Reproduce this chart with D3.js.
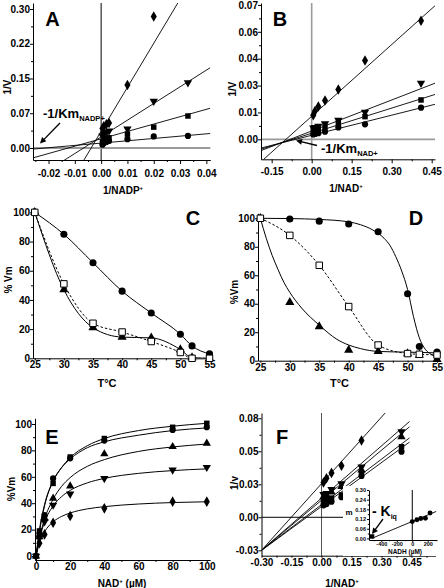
<!DOCTYPE html>
<html><head><meta charset="utf-8">
<script src="https://cdn.jsdelivr.net/npm/d3@7"></script>
<style>
body{margin:0;background:#fff;}
svg text{font-family:"Liberation Sans",Arial,sans-serif;font-weight:bold;fill:#000;}
</style></head><body>
<script>
// ---------------- DATA ----------------
// Panel A (1/V vs 1/NADP+)
const aX        = [0.0005, 0.001, 0.002, 0.003, 0.01, 0.02, 0.033];
const aDiamond  = [0.042, 0.047, 0.051, 0.054, 0.136, 0.284, null];
const aTriDown  = [0.026, 0.030, 0.034, 0.037, 0.041, 0.101, 0.141];
const aSquare   = [0.013, 0.016, 0.020, 0.022, 0.030, 0.045, 0.069];
const aCircle   = [0.007, 0.010, 0.013, 0.015, 0.019, 0.025, 0.026];
const aFitIntercept = [0.036, 0.024, 0.0198, 0.0105];
const aFitSlope     = [9.5, 3.6, 1.59, 0.5];
const aYTicks = [0, 0.075, 0.15, 0.225, 0.30];
const aYLabels = ["0.00","0.07","0.15","0.22","0.30"];
const aXTicks = [-0.02,-0.01,0,0.01,0.02,0.03,0.04];
const aXLabels = ["-0.02","-0.01","0.00","0.01","0.02","0.03","0.04"];

// Panel B (1/V vs 1/NAD+)
const bX        = [0.006, 0.0125, 0.025, 0.05, 0.1, 0.2, 0.41];
const bDiamond  = [0.0126, 0.0148, 0.0171, 0.0202, 0.0260, 0.0410, 0.0618];
const bTriDown  = [0.0060, 0.0062, 0.0068, 0.0082, 0.0100, 0.0142, 0.0292];
const bSquare   = [0.0045, 0.0048, 0.0052, 0.0064, 0.0085, 0.0118, 0.0205];
const bCircle   = [0.0025, 0.0028, 0.0032, 0.0040, 0.0062, 0.0078, 0.0165];
const bFitIntercept = [0.012, 0.00435, 0.00316, 0.0021];
const bFitSlope     = [0.1245, 0.0538, 0.0437, 0.0349];
const bYTicks = [0, 0.014, 0.028, 0.042, 0.056, 0.07];
const bYLabels = ["0.00","0.01","0.03","0.04","0.06","0.07"];
const bXTicks = [-0.15, 0, 0.15, 0.30, 0.45];
const bXLabels = ["-0.15","0.00","0.15","0.30","0.45"];

// Panel C (%Vm vs T)
const cX        = [25, 30, 35, 40, 45, 50, 52, 55];
const cCircle   = [100, 85, 65.5, 46, 31, 16.5, 8.5, 3];
const cTriangle = [100, 47, 21, 14.5, 14, 6, 0.5, 0];
const cSquare   = [100, 51, 24, 18, 11.5, 4, 0, 0];

// Panel D (%Vm vs T)
const dX        = [25, 30, 35, 40, 45, 50, 52, 55];
const dCircle   = [100, 99.5, 98, 96, 90.5, 47, 10, 6];
const dTriangle = [100, 41, 24, 7.5, 6.5, 5, 4, 1];
const dSquare   = [100, 88, 67, 38, 11, 5, 4.5, 4];
const dCircleFitX = [25, 30, 35, 40, 42, 44, 46, 47, 48, 49, 50, 51, 52, 53, 54, 55];
const dCircleFitY = [100, 99.8, 99.2, 97.5, 95.5, 92, 86, 81, 73, 63, 50, 31, 16, 8, 4.5, 2.5];
const dTriFitX = [25, 26, 27, 28, 29, 30, 32, 35, 38, 40, 42, 45, 50, 55];
const dTriFitY = [100, 86, 74, 64, 55, 48, 37, 25, 15, 11, 8.5, 6.5, 6, 5.5];

// Panel E (%Vm vs NAD+ µM)
const eX        = [0, 2, 5, 10, 20, 40, 80, 100];
const eSquare   = [0, 19, 30, 55, 75, 89, 97.5, 100.5];
const eCircle   = [0, 17, 31, 58.8, 74, 87.4, 95.5, 97.5];
const eTriUp    = [0, 14.6, 28.5, 43.7, 53, 77.3, 82.8, 85.4];
const eTriDown  = [0, 14, 26, 38.6, 47, 58.8, 65.2, 67.2];
const eDiamond  = [0, 9.6, 16.4, 25.2, 30.3, 36.1, 41.2, 41.2];
const eFitX        = [0, 2, 5, 10, 15, 20, 30, 40, 60, 80, 100];
const eFitSquare   = [0, 18, 38, 56.5, 67, 74.5, 83.5, 89, 95, 98.3, 100.5];
const eFitCircle   = [0, 20, 39, 57, 67, 73.5, 82, 86.5, 91.5, 95, 97];
const eFitTriUp    = [0, 13.6, 28, 43, 52.8, 59.4, 67.9, 73, 79.2, 82.6, 84.8];
const eFitTriDown  = [0, 13, 25.7, 37.9, 45, 49.7, 55.4, 58.8, 62.6, 64.7, 66];
const eFitDiamond  = [0, 9.8, 18.3, 25.9, 30, 32.6, 35.7, 37.4, 39.4, 40.5, 41.1];

// Panel F (1/v vs 1/NAD+)
const fX        = [0.01, 0.025, 0.05, 0.1, 0.2, 0.4];
const fDiamond  = [0.029, 0.0325, 0.037, 0.043, 0.064, null];
const fTriDown  = [0.019, 0.020, 0.0233, 0.028, 0.042, 0.0713];
const fTriUp    = [0.017, 0.018, 0.021, 0.0255, 0.0394, 0.067];
const fSquare   = [0.013, 0.014, 0.016, 0.0186, 0.0367, 0.0588];
const fCircle   = [0.010, 0.011, 0.013, 0.0167, 0.0344, 0.0547];
const fFitIntercept = [0.028, 0.016, 0.0142, 0.0105, 0.009];
const fFitSlope     = [0.185, 0.145, 0.139, 0.1265, 0.122];
const fYTicks = [-0.0275, 0, 0.0275, 0.055, 0.0825];
const fYLabels = ["-0.03","0.00","0.03","0.05","0.08"];
const fXTicks = [-0.30, -0.15, 0, 0.15, 0.30, 0.45];
const fXLabels = ["-0.30","-0.15","0.00","0.15","0.30","0.45"];

// Inset of F (m vs NADH µM)
const insSquareX = [-520];
const insSquareY = [0.012];
const insCircleX = [0, 60, 110, 170, 230];
const insCircleY = [0.104, 0.115, 0.123, 0.125, 0.157];
const insFitIntercept = 0.105, insFitSlope = 0.0002;
const insYTicks = [0, 0.06, 0.12, 0.18, 0.24, 0.30];
const insYLabels = ["0.00","0.06","0.12","0.18","0.24","0.30"];
const insXTicks = [-400, -200, 0, 200];
const insXLabels = ["-400","-200","0","200"];

// ---------------- DRAWING ----------------
const svg = d3.select("body").append("svg").attr("width",444).attr("height",588);
const defs = svg.append("defs");

function makePanel(o){
  const g = svg.append("g");
  const x = d3.scaleLinear().domain(o.xDomain).range(o.xRange);
  const y = d3.scaleLinear().domain(o.yDomain).range(o.yRange);
  const cid = "clip_"+o.id;
  defs.append("clipPath").attr("id",cid).append("rect")
    .attr("x",o.xRange[0]).attr("y",o.yRange[1])
    .attr("width",o.xRange[1]-o.xRange[0]).attr("height",o.yRange[0]-o.yRange[1]);
  const fs = o.fs || 10;
  if (o.xMinor) g.append("g").attr("transform",`translate(0,${o.yRange[0]})`)
      .call(d3.axisBottom(x).tickValues(o.xMinor).tickFormat("").tickSize(o.minorSize||2).tickSizeOuter(0))
      .call(s=>s.select(".domain").remove());
  if (o.yMinor) g.append("g").attr("transform",`translate(${o.xRange[0]},0)`)
      .call(d3.axisLeft(y).tickValues(o.yMinor).tickFormat("").tickSize(o.minorSize||2).tickSizeOuter(0))
      .call(s=>s.select(".domain").remove());
  const xa = g.append("g").attr("transform",`translate(0,${o.yRange[0]})`)
    .call(d3.axisBottom(x).tickValues(o.xTicks).tickFormat((d,i)=>o.xLabels[i])
      .tickSize(o.xTickSize).tickPadding(o.xPad).tickSizeOuter(0));
  const ya = g.append("g").attr("transform",`translate(${o.xRange[0]},0)`)
    .call(d3.axisLeft(y).tickValues(o.yTicks).tickFormat((d,i)=>o.yLabels[i])
      .tickSize(o.yTickSize).tickPadding(o.yPad).tickSizeOuter(0));
  [xa,ya].forEach(a=>{a.attr("font-family",null).attr("font-size",null);
    a.selectAll("text").style("font-size",fs+"px");});
  const plot = g.append("g").attr("clip-path",`url(#${cid})`);
  return {g, x, y, plot};
}

const SYM = {
  circle: d3.symbol().type(d3.symbolCircle).size(30)(),
  square: d3.symbol().type(d3.symbolSquare).size(30)(),
  triUp: d3.symbol().type(d3.symbolTriangle).size(30)(),
  triDown: d3.symbol().type(d3.symbolTriangle).size(30)(),
  diamond: d3.symbol().type(d3.symbolDiamond).size(32)(),
  open: d3.symbol().type(d3.symbolSquare).size(42)()
};
function points(P, xs, ys, type, sizeScale){
  const data = xs.map((v,i)=>[v, ys[i]]).filter(d=>d[1]!=null);
  P.g.append("g").selectAll("path").data(data).join("path")
    .attr("d", SYM[type])
    .attr("transform", d=>`translate(${P.x(d[0])},${P.y(d[1])})${type==="triDown"?" rotate(180)":""}${sizeScale?` scale(${sizeScale})`:""}`)
    .attr("fill", type==="open" ? "#fff" : "#000")
    .attr("stroke", type==="open" ? "#000" : "none")
    .attr("stroke-width", 1);
}
function fitLine(P, a, b, x0, x1){
  P.plot.append("path")
    .attr("d", d3.line().x(d=>P.x(d)).y(d=>P.y(a+b*d))([x0,x1]))
    .attr("fill","none").attr("stroke","#000").attr("stroke-width",0.9);
}
function curve(P, xs, ys, dashed){
  const data = xs.map((v,i)=>[v, ys[i]]).filter(d=>d[1]!=null);
  P.plot.append("path")
    .attr("d", d3.line().x(d=>P.x(d[0])).y(d=>P.y(d[1])).curve(d3.curveMonotoneX)(data))
    .attr("fill","none").attr("stroke","#000").attr("stroke-width",1)
    .attr("stroke-dasharray", dashed ? "2.5,2" : null);
}
function text(str, x, y, size, anchor, rot){
  const t = svg.append("text").attr("font-size",size).attr("text-anchor",anchor||"middle");
  if (rot) t.attr("transform",`translate(${x},${y}) rotate(-90)`).attr("dy","0.35em");
  else t.attr("x",x).attr("y",y);
  t.text(str);
  return t;
}
function hline(P, v, color, w){
  P.g.insert("line", ":first-child").attr("x1",P.x.range()[0]).attr("x2",P.x.range()[1])
    .attr("y1",P.y(v)).attr("y2",P.y(v)).attr("stroke",color).attr("stroke-width",w);
}
function vline(P, v, color, w){
  P.g.insert("line", ":first-child").attr("x1",P.x(v)).attr("x2",P.x(v))
    .attr("y1",P.y.range()[0]).attr("y2",P.y.range()[1]).attr("stroke",color).attr("stroke-width",w);
}
function arrow(x1,y1,x2,y2){
  const ang = Math.atan2(y2-y1, x2-x1);
  svg.append("line").attr("x1",x1).attr("y1",y1).attr("x2",x2-Math.cos(ang)*3).attr("y2",y2-Math.sin(ang)*3)
    .attr("stroke","#000").attr("stroke-width",1.3);
  const L=6, Wd=3;
  const p = [[x2,y2],
    [x2-L*Math.cos(ang)+Wd*Math.sin(ang), y2-L*Math.sin(ang)-Wd*Math.cos(ang)],
    [x2-L*Math.cos(ang)-Wd*Math.sin(ang), y2-L*Math.sin(ang)+Wd*Math.cos(ang)]];
  svg.append("path").attr("d","M"+p.map(q=>q.join(",")).join("L")+"Z").attr("fill","#000");
}

// ---- Panel A ----
const A = makePanel({id:"A", xDomain:[-0.0259,0.0415], xRange:[33,210.3], yDomain:[-0.026,0.313], yRange:[160,3],
  xTicks:aXTicks, xLabels:aXLabels, xMinor:[-0.025,-0.015,-0.005,0.005,0.015,0.025,0.035],
  yTicks:aYTicks, yLabels:aYLabels, yMinor:[0.0375,0.1125,0.1875,0.2625],
  xTickSize:4, xPad:6, yTickSize:3, yPad:0});
hline(A, 0, "#9a9a9a", 2);
vline(A, 0, "#000", 1);
aFitIntercept.forEach((a,i)=>fitLine(A, a, aFitSlope[i], -0.0259, 0.0415));
points(A, aX, aCircle, "circle");
points(A, aX, aSquare, "square");
points(A, aX, aTriDown, "triDown");
points(A, aX, aDiamond, "diamond");
text("A", 52.5, 26, 20);
text("1/V", 7, 87, 10, "middle", true);
{const t = svg.append("text").attr("x",123).attr("y",194).attr("font-size",10).attr("text-anchor","middle");
 t.append("tspan").text("1/NADP"); t.append("tspan").attr("font-size",6).attr("dy",-4).text("+");}
{const t = svg.append("text").attr("x",43).attr("y",118).attr("font-size",13);
 t.append("tspan").text("-1/Km"); t.append("tspan").attr("font-size",7.5).attr("dy",3).text("NADP+");}
arrow(60,123,40,143.5);

// ---- Panel B ----
const B = makePanel({id:"B", xDomain:[-0.19,0.4624], xRange:[261,435], yDomain:[-0.0104,0.071], yRange:[159.3,3],
  xTicks:bXTicks, xLabels:bXLabels, xMinor:[-0.075,0.075,0.225,0.375],
  yTicks:bYTicks, yLabels:bYLabels, yMinor:[0.007,0.021,0.035,0.049,0.063],
  xTickSize:4, xPad:5, yTickSize:3, yPad:0});
hline(B, 0, "#9a9a9a", 1.6);
vline(B, 0, "#9a9a9a", 1.6);
bFitIntercept.forEach((a,i)=>fitLine(B, a, bFitSlope[i], -0.19, 0.4624));
points(B, bX, bCircle, "circle");
points(B, bX, bSquare, "square");
points(B, bX, bTriDown, "triDown");
points(B, bX, bDiamond, "diamond");
text("B", 280, 26, 20);
text("1/V", 232, 89, 10, "middle", true);
{const t = svg.append("text").attr("x",346).attr("y",192).attr("font-size",10).attr("text-anchor","middle");
 t.append("tspan").text("1/NAD"); t.append("tspan").attr("font-size",6).attr("dy",-4).text("+");}
{const t = svg.append("text").attr("x",321).attr("y",153).attr("font-size",13);
 t.append("tspan").text("-1/Km"); t.append("tspan").attr("font-size",7.5).attr("dy",3).text("NAD+");}
arrow(317,145.5,296,140.5);

// ---- Panel C ----
const C = makePanel({id:"C", xDomain:[24.7,55.3], xRange:[33,211.25], yDomain:[0,103], yRange:[358.3,208],
  xTicks:[25,30,35,40,45,50,55], xLabels:["25","30","35","40","45","50","55"], xMinor:[27.5,32.5,37.5,42.5,47.5,52.5],
  yTicks:[0,20,40,60,80,100], yLabels:["0","20","40","60","80","100"], yMinor:[10,30,50,70,90],
  xTickSize:2, xPad:1, yTickSize:3, yPad:0});
curve(C, cX, cCircle);
curve(C, cX, cTriangle);
curve(C, cX, cSquare, true);
points(C, cX, cCircle, "circle", 1.15);
points(C, cX, cTriangle, "triUp", 1.1);
points(C, cX, cSquare, "open");
text("C", 193, 225, 20);
text("% Vm", 8.5, 280, 10, "middle", true);
text("T°C", 107, 387, 11);

// ---- Panel D ----
const D = makePanel({id:"D", xDomain:[24.6,55.3], xRange:[258,438.8], yDomain:[0,103.5], yRange:[360.7,213.3],
  xTicks:[25,30,35,40,45,50,55], xLabels:["25","30","35","40","45","50","55"], xMinor:[27.5,32.5,37.5,42.5,47.5,52.5],
  yTicks:[0,20,40,60,80,100], yLabels:["0","20","40","60","80","100"], yMinor:[10,30,50,70,90],
  xTickSize:2, xPad:1, yTickSize:3, yPad:0});
curve(D, dCircleFitX, dCircleFitY);
curve(D, dTriFitX, dTriFitY);
curve(D, dX, dSquare, true);
points(D, dX, dCircle, "circle", 1.15);
points(D, dX, dTriangle, "triUp", 1.1);
points(D, dX, dSquare, "open");
text("D", 416, 225, 20);
text("%Vm", 234, 292, 10, "middle", true);
text("T°C", 339.5, 387, 11);

// ---- Panel E ----
const E = makePanel({id:"E", xDomain:[-0.6,102], xRange:[35,210.2], yDomain:[-3,104.3], yRange:[560,418.3],
  xTicks:[0,20,40,60,80,100], xLabels:["0","20","40","60","80","100"], xMinor:[10,30,50,70,90],
  yTicks:[0,20,40,60,80,100], yLabels:["0","20","40","60","80","100"], yMinor:[10,30,50,70,90],
  xTickSize:2, xPad:1, yTickSize:3, yPad:0});
curve(E, eFitX, eFitSquare);
curve(E, eFitX, eFitCircle);
curve(E, eFitX, eFitTriUp);
curve(E, eFitX, eFitTriDown);
curve(E, eFitX, eFitDiamond);
points(E, eX, eDiamond, "diamond");
points(E, eX, eTriDown, "triDown");
points(E, eX, eTriUp, "triUp");
points(E, eX, eCircle, "circle");
points(E, eX, eSquare, "square");
text("E", 52, 444, 20);
text("%Vm", 11, 489, 10, "middle", true);
{const t = svg.append("text").attr("x",122).attr("y",587).attr("font-size",10).attr("text-anchor","middle");
 t.append("tspan").text("NAD"); t.append("tspan").attr("font-size",6).attr("dy",-4).text("+");
 t.append("tspan").attr("dy",4).text(" (µM)");}

// ---- Panel F ----
const F = makePanel({id:"F", xDomain:[-0.30,0.57], xRange:[261.5,435.5], yDomain:[-0.032,0.0869], yRange:[555.7,413],
  xTicks:fXTicks, xLabels:fXLabels, xMinor:[-0.225,-0.075,0.075,0.225,0.375,0.525],
  yTicks:fYTicks, yLabels:fYLabels, yMinor:[-0.01375,0.01375,0.04125,0.06875],
  xTickSize:2, xPad:1, yTickSize:3, yPad:0});
hline(F, 0, "#000", 1);
vline(F, 0, "#555", 1);
fFitIntercept.forEach((a,i)=>fitLine(F, a, fFitSlope[i], -0.30, 0.44));
points(F, fX, fCircle, "circle");
points(F, fX, fSquare, "square");
points(F, fX, fTriUp, "triUp");
points(F, fX, fTriDown, "triDown");
points(F, fX, fDiamond, "diamond");
text("F", 282, 444, 20);
text("1/v", 234, 483, 10, "middle", true);
{const t = svg.append("text").attr("x",342).attr("y",587).attr("font-size",10).attr("text-anchor","middle");
 t.append("tspan").text("1/NAD"); t.append("tspan").attr("font-size",6).attr("dy",-4).text("+");}

// ---- Inset ----
svg.append("rect").attr("x",343).attr("y",486).attr("width",97).attr("height",70).attr("fill","#fff");
const I = makePanel({id:"I", xDomain:[-560,320], xRange:[369,437], yDomain:[-0.01,0.30], yRange:[540,490],
  xTicks:insXTicks, xLabels:insXLabels, xMinor:[-500,-300,-100,100,300],
  yTicks:insYTicks, yLabels:insYLabels, yMinor:[0.03,0.09,0.15,0.21,0.27],
  xTickSize:2, xPad:0, yTickSize:2, yPad:1, fs:5.5, minorSize:1.2});
vline(I, 0, "#000", 1);
fitLine(I, insFitIntercept, insFitSlope, -525, 310);
points(I, insSquareX, insSquareY, "square", 0.8);
points(I, insCircleX, insCircleY, "circle", 0.8);
text("NADH (µM)", 405, 554, 6.5);
text("m", 349, 515, 8);
{const t = svg.append("text").attr("x",372).attr("y",516).attr("font-size",14);
 t.append("tspan").text("- K"); t.append("tspan").attr("font-size",7).attr("dy",3).text("iq");}
arrow(383,519,372,534);
</script>
</body></html>
